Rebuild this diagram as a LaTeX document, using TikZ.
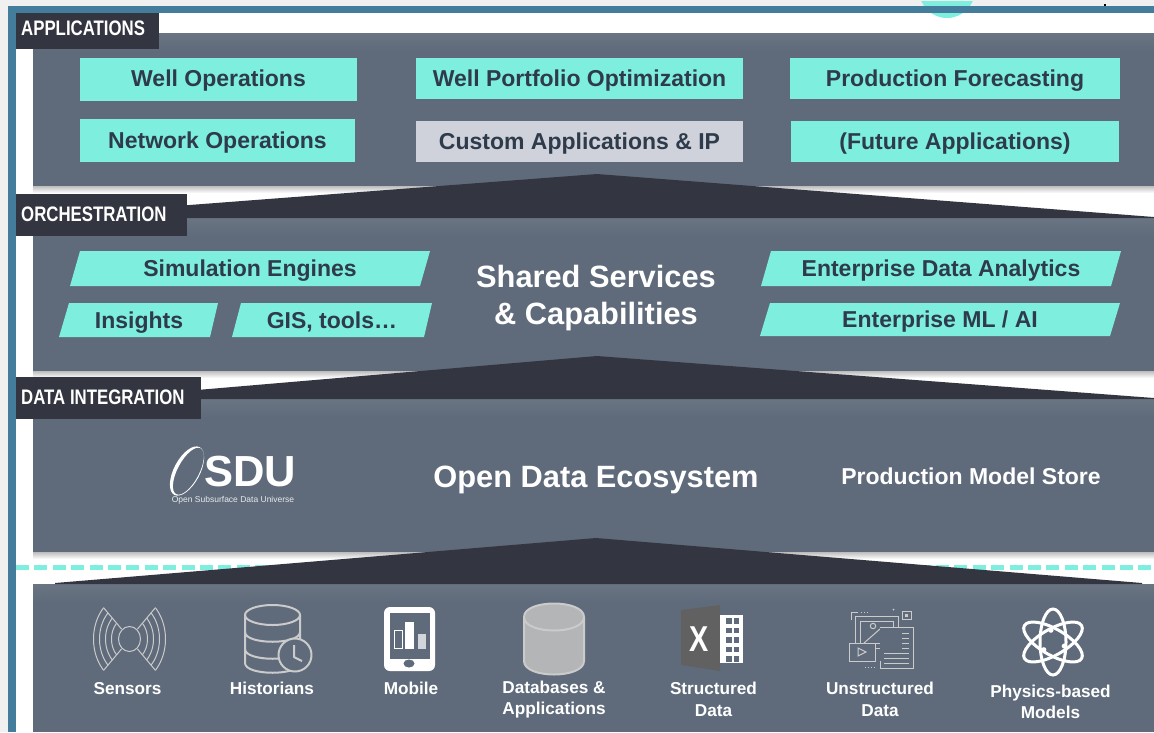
\documentclass[tikz,border=0pt]{standalone}
\usepackage{fontspec}
\setmainfont{Liberation Sans}[BoldFont={Liberation Sans Bold}]
\newfontfamily\tagfont[FakeStretch=0.80]{Liberation Sans Bold}
\usetikzlibrary{shapes.geometric,calc}
\definecolor{panelc}{HTML}{5F6B7B}
\definecolor{paneltop}{HTML}{6A7482}
\definecolor{tagc}{HTML}{333640}
\definecolor{tealc}{HTML}{7EEEDF}
\definecolor{greyc}{HTML}{D0D2DB}
\definecolor{inkc}{HTML}{2E3B4A}
\definecolor{barc}{HTML}{447C9C}
\definecolor{outerc}{HTML}{F0F0F0}
\definecolor{iconc}{HTML}{CBCBCB}
\tikzset{
  panel/.style={fill=panelc,draw=none,anchor=north west,inner sep=0pt,minimum width=1121pt,outer sep=0pt},
  tagbox/.style={fill=tagc,anchor=north west,inner sep=0pt,outer sep=0pt},
  taglabel/.style={anchor=west,text=white,font=\tagfont\fontsize{21}{21}\selectfont,inner sep=0pt},
  appbox/.style={fill=tealc,text=inkc,font=\bfseries\fontsize{23}{23}\selectfont,anchor=north west,inner sep=0pt,outer sep=0pt,text height=21.4pt,text depth=6pt},
  custombox/.style={appbox,fill=greyc},
  slant/.style={fill=tealc,draw=none},
  slanttext/.style={text=inkc,font=\bfseries\fontsize{23}{23}\selectfont,inner sep=0pt,text height=21.4pt,text depth=6pt},
  bigtext/.style={text=white,font=\bfseries\fontsize{30.8}{36}\selectfont,inner sep=0pt,text height=30pt,text depth=8pt},
  srclabel/.style={text=white,font=\bfseries\fontsize{17.2}{21.5}\selectfont,inner sep=0pt,align=center},
  icon/.style={draw=iconc,line width=2pt,line join=round},
  thinicon/.style={draw=iconc,line width=1pt},
}
\begin{document}
\begin{tikzpicture}[x=1pt,y=-1pt]
\useasboundingbox (0,0) rectangle (1154,732);
\fill[white] (0,0) rectangle (1154,732);
\fill[outerc] (0,0) rectangle (1154,6);
\fill[outerc] (0,0) rectangle (8,732);
% teal arc behind the top bar
\fill[tealc] (947,-10) circle (28);
\fill[outerc] (900,-2) rectangle (1000,1);
% dashed line
\draw[tealc,line width=5pt,dash pattern=on 13pt off 5.4pt] (16,567) -- (1154,567);
\fill[barc] (8,6) rectangle (1154,13);
\fill[barc] (8,6) rectangle (16,732);
\fill[black] (1104,4) rectangle (1106,6);
% panel shadows
\foreach \yb in {186,371,552}{
  \shade[top color=black!26,bottom color=white] (33,\yb) rectangle (1154,\yb+7);
}
% panels
\node[panel,minimum height=153pt] (p1) at (33,33) {};
\node[panel,minimum height=153pt] (p2) at (33,218) {};
\node[panel,minimum height=153pt] (p3) at (33,399) {};
\node[panel,minimum height=148pt] (p4) at (33,584) {};
\foreach \yt in {33,218,399,584}{
  \shade[top color=paneltop,bottom color=panelc] (33,\yt) rectangle (1154,\yt+18);
}
% wedges between layers
\fill[tagc] (150,208) -- (597,174) -- (1154,217) -- (1154,218) -- (150,218) -- cycle;
\fill[tagc] (150,394) -- (597,356) -- (1154,398) -- (1154,399) -- (150,399) -- cycle;
\fill[tagc] (55,583) -- (596,538) -- (1142,583) -- (1142,584) -- (55,584) -- cycle;
% tags
\node[tagbox,minimum width=143pt,minimum height=36pt] (t1) at (16,13) {};
\node[taglabel] (t1l) at (21,28) {APPLICATIONS};
\node[tagbox,minimum width=171pt,minimum height=42pt] (t2) at (16,194) {};
\node[taglabel] (t2l) at (21,214) {ORCHESTRATION};
\node[tagbox,minimum width=185pt,minimum height=42pt] (t3) at (16,377) {};
\node[taglabel] (t3l) at (21,397) {DATA INTEGRATION};
% application boxes
\node[appbox,text depth=8pt,minimum width=277pt,minimum height=43pt] (a1) at (80,58) {Well Operations};
\node[appbox,minimum width=275pt,minimum height=43pt] (a2) at (80,119) {Network Operations};
\node[appbox,minimum width=327pt,minimum height=41pt] (a3) at (416,58) {Well Portfolio Optimization};
\node[custombox,minimum width=327pt,minimum height=41pt] (a4) at (416,121) {Custom Applications \& IP};
\node[appbox,minimum width=330pt,minimum height=41pt] (a5) at (790,58) {Production Forecasting};
\node[appbox,minimum width=328pt,minimum height=41pt] (a6) at (791,121) {(Future Applications)};
% orchestration parallelograms
\fill[slant] (80,251) -- (430,251) -- (420,286) -- (70,286) -- cycle;
\node[slanttext] (o1) at (250,268.5) {Simulation Engines};
\fill[slant] (69,303) -- (218,303) -- (210,337) -- (59,337) -- cycle;
\node[slanttext] (o2) at (139,320.5) {Insights};
\fill[slant] (241,303) -- (432,303) -- (424,337) -- (232,337) -- cycle;
\node[slanttext] (o3) at (332,320.5) {GIS, tools…};
\fill[slant] (771,251) -- (1121,251) -- (1111,286) -- (761,286) -- cycle;
\node[slanttext] (o4) at (941,268.5) {Enterprise Data Analytics};
\fill[slant] (770,303) -- (1120,303) -- (1110,336) -- (760,336) -- cycle;
\node[slanttext] (o5) at (940,319.5) {Enterprise ML / AI};
\node[bigtext] (ss1) at (596,276) {Shared Services};
\node[bigtext] (ss2) at (596,313) {\& Capabilities};
% data integration
\node[bigtext] (ode) at (596,476) {Open Data Ecosystem};
\node[text=white,font=\bfseries\fontsize{23}{23}\selectfont,inner sep=0pt] (pms) at (971,476) {Production Model Store};
% OSDU logo
\fill[white,even odd rule,rotate around={62:(187,471)}] (187,471) ellipse (27 and 13) (187.5,472.3) ellipse (26 and 10.8);
\node[text=white,font=\bfseries\fontsize{43.5}{44}\selectfont,inner sep=0pt,anchor=west] (sdu) at (204,472) {SDU};
\node[text=white!85!panelc,font=\fontsize{8.5}{8.5}\selectfont,inner sep=0pt] (sdusub) at (233,500.5) {Open Subsurface Data Universe};
% sensors icon
\foreach \r in {18,24,30,36}{
  \draw[thinicon] plot[domain=-44:44,samples=21,smooth] ({129.5+\r*cos(\x)},{639+1.25*\r*sin(\x)});
  \draw[thinicon] plot[domain=136:224,samples=21,smooth] ({129.5+\r*cos(\x)},{639+1.25*\r*sin(\x)});
}
\foreach \s in {-1,1}{
  \draw[thinicon] ({129.5+\s*8},{639-10}) -- ({129.5+\s*25.9},{639-31.3});
  \draw[thinicon] ({129.5+\s*8},{639+10}) -- ({129.5+\s*25.9},{639+31.3});
}
\draw[thinicon,fill=panelc] (129.5,639) ellipse (11 and 12.5);
% historians icon
\draw[icon] (245,615) -- (245,663) .. controls (245,676) and (300,676) .. (300,663) -- (300,615);
\draw[icon] (245,632) .. controls (245,645) and (300,645) .. (300,632);
\draw[icon] (245,649) .. controls (245,662) and (300,662) .. (300,649);
\draw[icon] (272.5,615) ellipse (27.5 and 10);
\draw[icon,fill=panelc] (295,655) circle (16.5);
\draw[icon] (294,645) -- (294,657) -- (302,661);
% mobile icon
\fill[white,rounded corners=6pt] (384,607) rectangle (435,671);
\fill[panelc] (390,613) rectangle (430,659);
\fill[white] (405,622) rectangle (414,649);
\draw[white,line width=1pt] (394,630.5) rectangle (402,648.5);
\fill[white!72!panelc] (418,634) rectangle (426,649);
\fill[panelc] (409,663.5) ellipse (5.5 and 4);
% database icon
\draw[draw=iconc,fill=white!48!gray!90!panelc,line width=2pt] (524,617) -- (524,661) .. controls (524,679) and (584,679) .. (584,661) -- (584,617) .. controls (584,599) and (524,599) .. (524,617) -- cycle;
\draw[iconc,line width=2pt] (524,617) .. controls (524,635) and (584,635) .. (584,617);
% excel icon
\fill[black!62] (681,610) -- (720,605) -- (720,671) -- (681,665) -- cycle;
\node[text=white,font=\tagfont\fontsize{36}{36}\selectfont,inner sep=0pt] (xl) at (699,639) {X};
\fill[white] (720,615) rectangle (743,663);
\foreach \yy in {618,627.5,637,646.5,656}{
  \fill[panelc] (726,\yy) rectangle (739,\yy+5.5);
}
\fill[white] (732,615) rectangle (733.5,663);
% unstructured icon
\draw[thinicon] (851,620) -- (851,612.5) -- (858,612.5);
\draw[thinicon,dotted] (861,612.5) -- (868,612.5);
\fill[iconc] (893.5,609.5) circle (1);
\draw[thinicon] (902,611) rectangle (911,619);
\fill[iconc] (905,613.5) rectangle (908,616.5);
\draw[thinicon] (855,616) rectangle (898,648);
\draw[thinicon] (860,621) rectangle (893,643);
\draw[thinicon] (864,643) -- (880,629) -- (893,641);
\draw[thinicon] (873,626) circle (2.7);
\draw[thinicon,fill=panelc] (849,643) rectangle (875,661);
\draw[thinicon] (858,648) -- (866,652) -- (858,656) -- cycle;
\draw[thinicon,fill=panelc] (880,627) -- (913,627) -- (913,668) -- (880,668) -- (880,661);
\foreach \yy in {633,638,643,648,653}{ \draw[thinicon] (902,\yy) -- (909,\yy); }
\foreach \yy in {653,658,663}{ \draw[thinicon] (884,\yy) -- (909,\yy); }
\draw[thinicon,dotted] (865,667) -- (875,667);
% physics icon
\foreach \a in {90,30,-30}{
  \draw[white,line width=3pt,rotate around={\a:(1053,642)}] (1053,642) ellipse (33 and 13);
}
\foreach \a/\d in {20/12,140/12,260/12}{
  \fill[white] ({1053+\d*cos(\a)},{642+\d*sin(\a)}) circle (2.6);
}
% source labels
\node[srclabel] (s1) at (127.5,688.5) {Sensors};
\node[srclabel] (s2) at (272,688.5) {Historians};
\node[srclabel] (s3) at (411,688.5) {Mobile};
\node[srclabel] (s4) at (554,699.5) {Databases \&\\Applications};
\node[srclabel] (s5) at (713.5,699.5) {Structured\\Data};
\node[srclabel] (s6) at (880,699.5) {Unstructured\\Data};
\node[srclabel] (s7) at (1050.5,702) {Physics-based\\Models};
\end{tikzpicture}
\end{document}
